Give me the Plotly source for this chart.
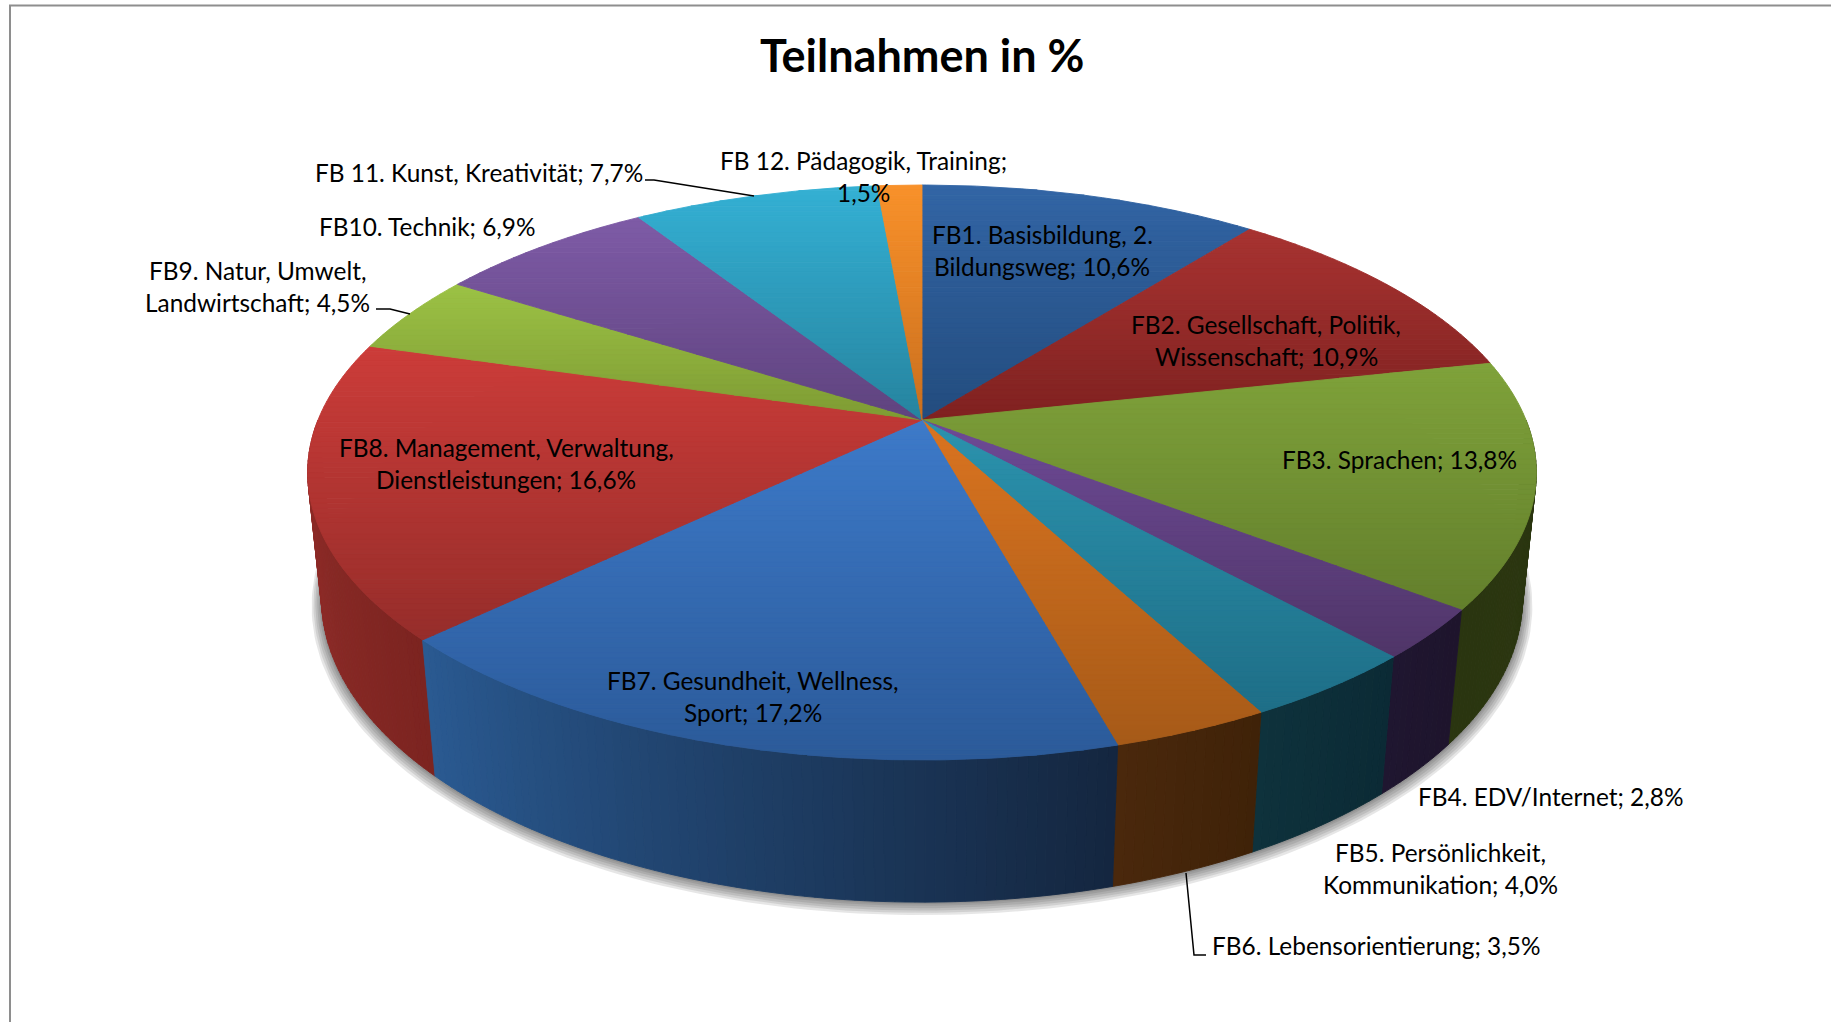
import math
import numpy as np
import plotly.graph_objects as go

# ---- data -------------------------------------------------------------
categories = [
    "FB1. Basisbildung, 2. Bildungsweg", "FB2. Gesellschaft, Politik, Wissenschaft",
    "FB3. Sprachen", "FB4. EDV/Internet", "FB5. Persönlichkeit, Kommunikation",
    "FB6. Lebensorientierung", "FB7. Gesundheit, Wellness, Sport",
    "FB8. Management, Verwaltung, Dienstleistungen", "FB9. Natur, Umwelt, Landwirtschaft",
    "FB10. Technik", "FB 11. Kunst, Kreativität", "FB 12. Pädagogik, Training",
]
# slice sizes
values = [10.65, 10.95, 13.8, 2.8, 4.0, 3.5, 17.15, 16.65, 4.5, 6.9, 7.7, 1.4]
title = "Teilnahmen in %"

# ---- styles -----------------------------------------------------------
top_light = ["#3265A5", "#A83331", "#7FA23A", "#6E4A96", "#2B93AE", "#DA7420",
             "#3D7AC9", "#CC3C39", "#9CC245", "#7E5BA6", "#34B0D4", "#F9912A"]
top_dark = ["#234C7E", "#7F2120", "#637F2C", "#4F3568", "#1E6E87", "#A65A18",
            "#2B5A99", "#962D2A", "#7E9B33", "#5F437F", "#26849F", "#C96F1E"]
side_a = ["#234C7E", "#7F2120", "#2D3A12", "#1E142C", "#0B2A35", "#3F2208",
          "#14263F", "#7C2420", "#7E9B33", "#5F437F", "#26849F", "#C96F1E"]
side_b = ["#234C7E", "#7F2120", "#2A3510", "#1F1630", "#0E323C", "#4A280C",
          "#2A5A92", "#A03230", "#7E9B33", "#5F437F", "#26849F", "#C96F1E"]

W, H = 1831, 1022
CX, CY, A, B, C, K, M = 922.0, 420.0, 604.0, 277.9, 127.0, 0.1826, 0.0224
FONT = "Lato"
FS = 24.4
LINE = 32.7

label_lines = [
    ["FB1. Basisbildung, 2.", "Bildungsweg; 10,6%"],
    ["FB2. Gesellschaft, Politik,", "Wissenschaft; 10,9%"],
    ["FB3. Sprachen; 13,8%"],
    ["FB4. EDV/Internet; 2,8%"],
    ["FB5. Persönlichkeit,", "Kommunikation; 4,0%"],
    ["FB6. Lebensorientierung; 3,5%"],
    ["FB7. Gesundheit, Wellness,", "Sport; 17,2%"],
    ["FB8. Management, Verwaltung,", "Dienstleistungen; 16,6%"],
    ["FB9. Natur, Umwelt,", "Landwirtschaft; 4,5%"],
    ["FB10. Technik; 6,9%"],
    ["FB 11. Kunst, Kreativität; 7,7%"],
    ["FB 12. Pädagogik, Training;", "1,5%"],
]
label_xy = [(1042, 234), (1266, 324), (1399, 459), (1550, 796), (1440, 852), (1376, 945),
            (753, 680), (506, 447), (257, 270), (479, 172), (427, 226), (863, 160)]
label_xy[9], label_xy[10] = label_xy[10], label_xy[9]
leaders = [
    ([645, 654, 754], [180, 180, 196]),
    ([376, 390, 410], [309, 309, 314]),
    ([1186, 1194, 1206], [873, 955, 955]),
]


def project(theta, r=1.0, z=0.0):
    X, Y = r * np.sin(theta), r * np.cos(theta)
    w = 1 + K * Y + M * z
    return CX + A * X / w, CY + (-B * Y + C * z) / w


def rgb(h):
    return np.array([int(h[i:i + 2], 16) for i in (1, 3, 5)], float)


def mix(a, b, t):
    c = rgb(a) * (1 - t) + rgb(b) * t
    return "rgb(%d,%d,%d)" % tuple(c.round())


def clip(poly, ylo, yhi):
    def cut(pts, inside, yb):
        out = []
        for i in range(len(pts)):
            p, q = pts[i], pts[(i + 1) % len(pts)]
            if inside(p):
                out.append(p)
            if inside(p) != inside(q):
                t = (yb - p[1]) / (q[1] - p[1])
                out.append((p[0] + t * (q[0] - p[0]), yb))
        return out
    pts = cut(poly, lambda p: p[1] >= ylo, ylo)
    if pts:
        pts = cut(pts, lambda p: p[1] <= yhi, yhi)
    return pts


def patch(xs, ys, color, lw=0.9):
    return go.Scatter(x=list(xs), y=list(ys), mode="lines", fill="toself", fillcolor=color,
                      line=dict(color=color, width=lw), hoverinfo="skip", showlegend=False)


fig = go.Figure()

# frame
fig.add_trace(go.Scatter(x=[10, 10, W], y=[H, 5.5, 5.5], mode="lines",
                         line=dict(color="#8E8E8E", width=2), hoverinfo="skip", showlegend=False))

# soft shadow
tt = np.linspace(0, 2 * np.pi, 361)
for r, dy in [(1.016, 6), (1.013, 5), (1.010, 4), (1.007, 3), (1.004, 2), (1.002, 1)]:
    x, y = project(tt, r, 1.0)
    fig.add_trace(go.Scatter(x=x, y=y + dy, mode="lines", fill="toself",
                             fillcolor="rgba(60,60,60,0.13)", line=dict(width=0),
                             hoverinfo="skip", showlegend=False))

edges = np.cumsum([0] + values) / sum(values) * 2 * np.pi

# side walls: back-facing parts first, front-centre last
strips = []
for i, (a0, a1) in enumerate(zip(edges[:-1], edges[1:])):
    lo, hi = max(a0, math.pi / 2), min(a1, 3 * math.pi / 2)
    if lo >= hi:
        continue
    n = max(2, int((hi - lo) / math.radians(0.8)))
    gr = np.linspace(lo, hi, n + 1)
    for j in range(n):
        t = (0.5 * (gr[j] + gr[j + 1]) - a0) / (a1 - a0)
        strips.append((abs(0.5 * (gr[j] + gr[j + 1]) - math.pi), gr[j], gr[j + 1], mix(side_a[i], side_b[i], t)))
for _, g0, g1, col in sorted(strips, key=lambda s: -s[0]):
    th = np.array([g0, g1])
    xt, yt = project(th)
    xb, yb = project(th, z=1.0)
    fig.add_trace(patch([xt[0], xt[1], xb[1], xb[0], xt[0]], [yt[0], yt[1], yb[1], yb[0], yt[0]], col))

# top faces with a vertical gradient per slice
for i, (a0, a1) in enumerate(zip(edges[:-1], edges[1:])):
    th = np.linspace(a0, a1, max(3, int((a1 - a0) / math.radians(0.5))))
    ax, ay = project(th)
    poly = [(CX, CY)] + list(zip(ax, ay))
    ymin, ymax = min(p[1] for p in poly), max(p[1] for p in poly)
    n = max(3, int((ymax - ymin) / 5))
    br = np.linspace(ymin, ymax, n + 1)
    for j in range(n):
        pts = clip(poly, br[j], br[j + 1])
        if len(pts) < 3:
            continue
        pts = pts + [pts[0]]
        fig.add_trace(patch([p[0] for p in pts], [p[1] for p in pts],
                            mix(top_light[i], top_dark[i], (j + 0.5) / n)))

# leader lines
for lx, ly in leaders:
    fig.add_trace(go.Scatter(x=lx, y=ly, mode="lines", line=dict(color="black", width=1.5),
                             hoverinfo="skip", showlegend=False))

# labels
for lines, (lx, ly) in zip(label_lines, label_xy):
    for k, txt in enumerate(lines):
        fig.add_annotation(x=lx, y=ly + k * LINE, text=txt, showarrow=False, xanchor="center",
                           yanchor="middle", font=dict(family=FONT, size=FS, color="black"))
fig.add_annotation(x=922, y=55, text="<b>" + title + "</b>", showarrow=False, xanchor="center",
                   yanchor="middle", font=dict(family=FONT, size=45, color="black"))

fig.update_layout(width=W, height=H, margin=dict(l=0, r=0, t=0, b=0), paper_bgcolor="white",
                  plot_bgcolor="white", showlegend=False,
                  xaxis=dict(range=[0, W], visible=False, fixedrange=True),
                  yaxis=dict(range=[H, 0], visible=False, fixedrange=True))
fig.write_html("out.html", post_script="document.body.style.margin='0';document.body.style.overflow='hidden';",
               config={"displayModeBar": False})
